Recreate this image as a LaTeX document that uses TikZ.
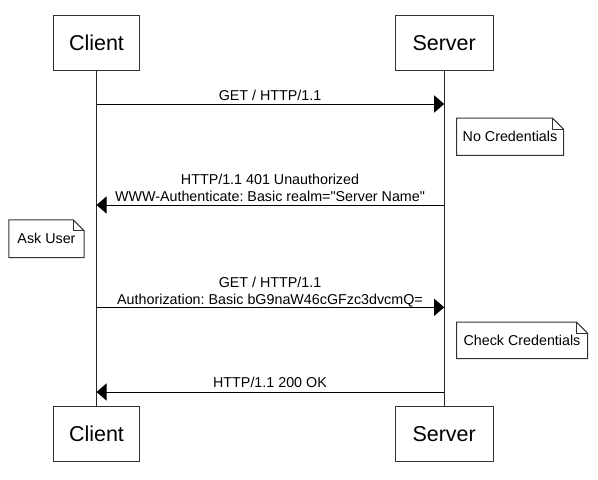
\documentclass[tikz,border=0pt]{standalone}
\usepackage{fontspec}
\setmainfont{Liberation Sans}[Ligatures=TeXOff]
\usetikzlibrary{arrows.meta}
\frenchspacing
\begin{document}
\begin{tikzpicture}[x=1pt,y=-1pt,
  actor/.style={draw=black!80, line width=1pt, minimum width=#1, minimum height=55pt,
    inner sep=0pt, font=\fontsize{21.5}{24}\selectfont},
  notebox/.style={inner sep=0pt, font=\fontsize{14.3}{17}\selectfont},
  noteline/.style={draw=black!80, line width=1pt, line join=miter},
  msgtxt/.style={anchor=base, inner sep=0pt, font=\fontsize{14.3}{17}\selectfont},
  lifeline/.style={draw=black!85, line width=1pt},
  msg/.style={draw=black, line width=1pt, -{Triangle[length=10pt,width=17pt]}}]
\useasboundingbox (0,0) rectangle (598,480);

% actors
\node[actor=86.7pt] (ctop) at (96.5,43.2) {Client};
\node[actor=98.3pt] (stop) at (444.2,43.2) {Server};
\node[actor=86.7pt] (cbot) at (96.5,433.7) {Client};
\node[actor=98.3pt] (sbot) at (444.2,433.7) {Server};

% lifelines
\draw[lifeline] (ctop.south) -- (cbot.north);
\draw[lifeline] (stop.south) -- (sbot.north);

% message end points on lifelines
\coordinate (c1) at (96.5,104);   \coordinate (s1) at (444.2,104);
\coordinate (c2) at (96.5,205);   \coordinate (s2) at (444.2,205);
\coordinate (c3) at (96.5,307.3); \coordinate (s3) at (444.2,307.3);
\coordinate (c4) at (96.5,392);   \coordinate (s4) at (444.2,392);

% messages
\draw[msg] (c1) -- (s1);
\node[msgtxt] (m1) at (270,100.5) {GET / HTTP/1.1};

\draw[msg] (s2) -- (c2);
\node[msgtxt] (m2a) at (270,184.5) {HTTP/1.1 401 Unauthorized};
\node[msgtxt] (m2b) at (270,201.3) {WWW-Authenticate: Basic realm="Server Name"};

\draw[msg] (c3) -- (s3);
\node[msgtxt] (m3a) at (270,287.3) {GET / HTTP/1.1};
\node[msgtxt] (m3b) at (270,304.1) {Authorization: Basic bG9naW46cGFzc3dvcmQ=};

\draw[msg] (s4) -- (c4);
\node[msgtxt] (m4) at (270,387.5) {HTTP/1.1 200 OK};

% notes
\node[notebox, minimum width=106.6pt, minimum height=36.7pt] (n1) at (510,136.7) {No Credentials};
\node[notebox, minimum width=75pt, minimum height=37.3pt] (n2) at (46.5,238.7) {Ask User};
\node[notebox, minimum width=130.6pt, minimum height=36pt] (n3) at (522,340.3) {Check Credentials};

\foreach \n in {n1,n2,n3}{
  \draw[noteline] (\n.south west) -- (\n.north west) -- ([xshift=-11pt]\n.north east)
     -- ([yshift=-11pt]\n.north east) -- (\n.south east) -- cycle;
  \draw[noteline, line width=0.8pt] ([xshift=-11pt]\n.north east) -- ([xshift=-11pt,yshift=-11pt]\n.north east)
     -- ([yshift=-11pt]\n.north east);
}
\end{tikzpicture}
\end{document}
